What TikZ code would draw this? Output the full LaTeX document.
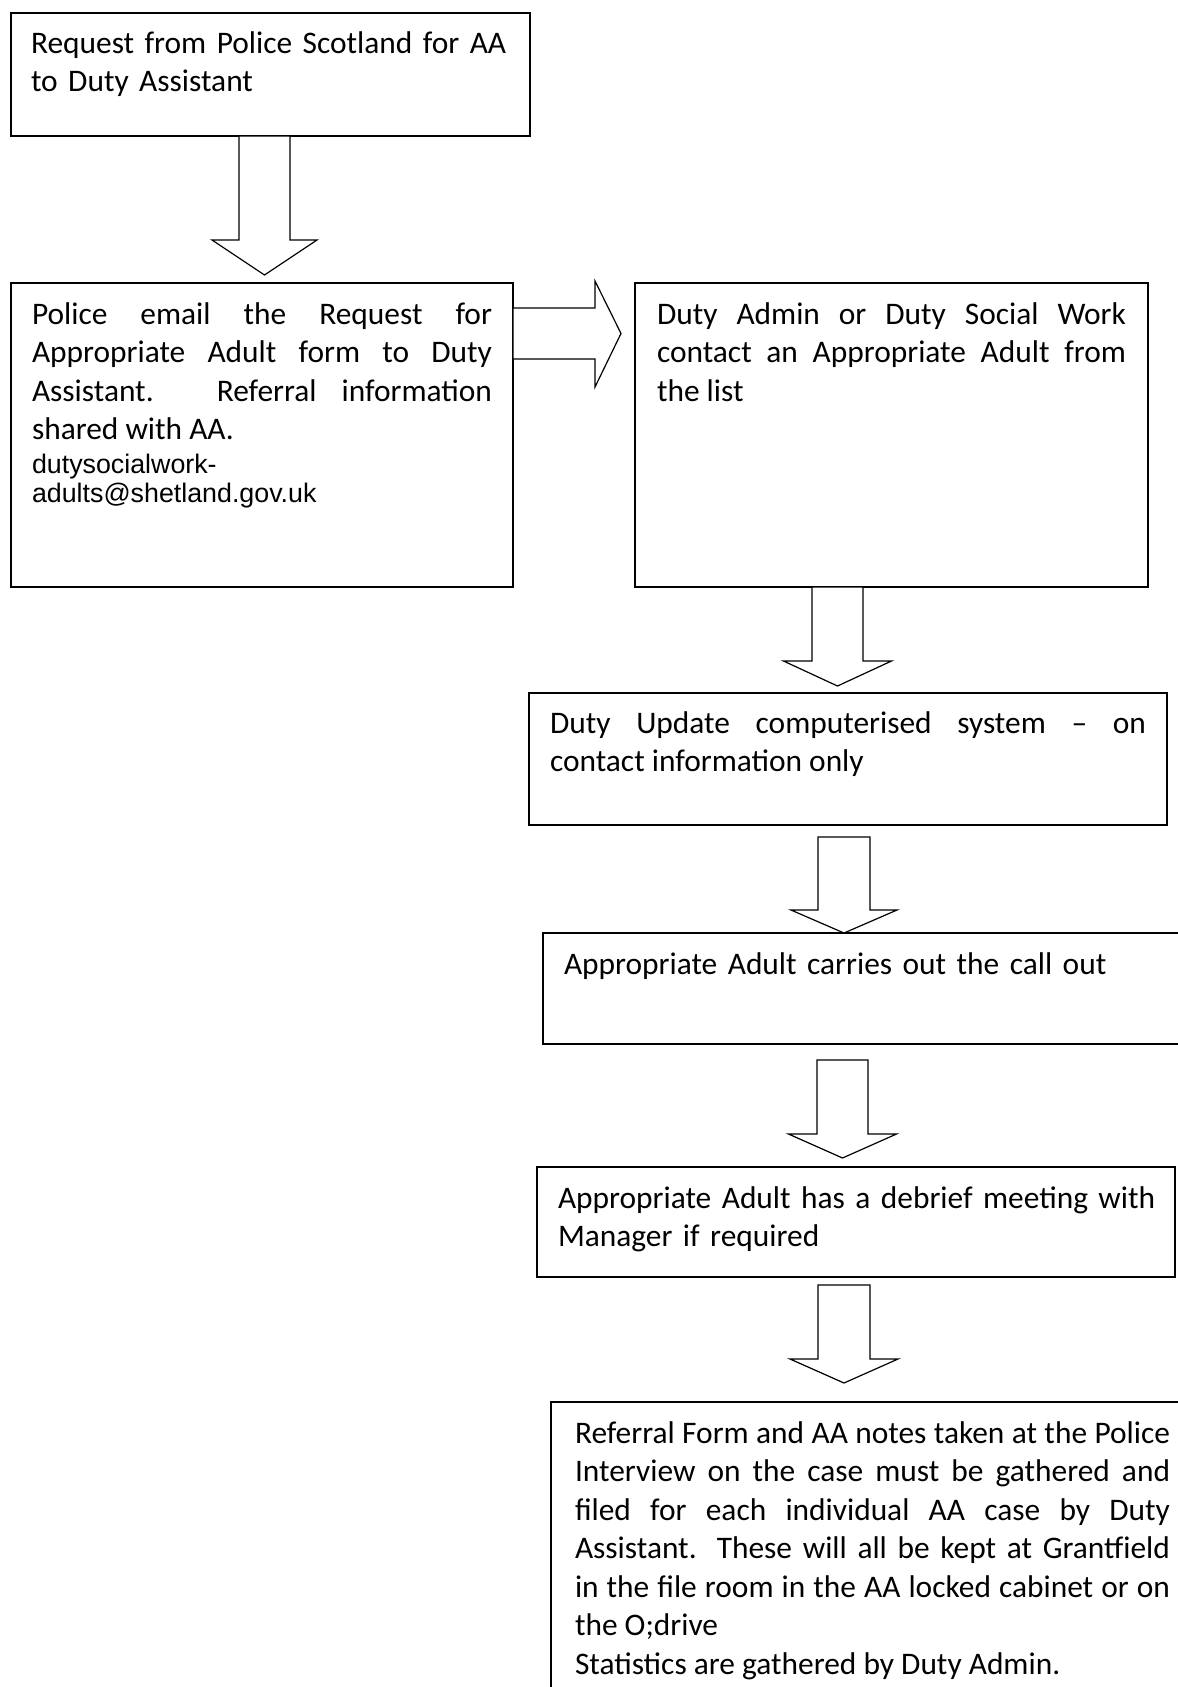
\documentclass[tikz,border=0pt]{standalone}
\usepackage{fontspec}
\setmainfont{Carlito}
\newfontfamily\arialfont{Liberation Sans}
\usetikzlibrary{calc}

\tikzset{
  flowbox/.style={draw, line width=1.3pt, anchor=north west, outer sep=0pt, inner ysep=0pt,
    font=\fontsize{31.4pt}{38.5pt}\selectfont},
  blockarrow/.style={draw, line width=1.2pt, fill=white},
}

% hollow arrow pointing down: start, shaft length, head length, shaft half width, head overhang
\newcommand{\downblock}[5]{%
  \draw[blockarrow] #1 ++(-#4,0) -- ++(0,#2) -- ++(-#5,0) -- ++(#4+#5,#3)
    -- ++(#4+#5,-#3) -- ++(-#5,0) -- ++(0,-#2) -- cycle;}

\begin{document}
\begin{tikzpicture}[x=1pt,y=-1pt]
    \useasboundingbox (0,0) rectangle (1178,1687);

    \node[flowbox, inner xsep=20pt, text width=479pt, text height=40pt, text depth=83pt, align=left] (req) at (11,13)
        {\mbox{Request from Police Scotland for AA}\\to Duty Assistant};
    \node[flowbox, inner xsep=21pt, text width=460pt, text height=41pt, text depth=263pt, align=justify] (police) at (11,283)
        {Police email the Request for\linebreak Appropriate Adult form to Duty\linebreak Assistant. Referral information\linebreak shared with AA.\par\vspace{5pt}%
         {\arialfont\fontsize{26.8pt}{29pt}\selectfont dutysocialwork-\par adults@shetland.gov.uk\par}};
    \node[flowbox, inner xsep=22pt, text width=469pt, text height=41pt, text depth=263pt, align=justify] (duty) at (635,283)
        {Duty Admin or Duty Social Work\linebreak contact an Appropriate Adult from\linebreak the list};
    \node[flowbox, inner xsep=21pt, text width=596pt, text height=40pt, text depth=92pt, align=justify] (update) at (529,693)
        {Duty Update computerised system – on\linebreak contact information only};
    \node[flowbox, inner xsep=21pt, text width=608pt, text height=41pt, text depth=70pt, align=left] (callout) at (543,933)
        {Appropriate Adult carries out the call out};
    \node[flowbox, inner xsep=21pt, text width=596pt, text height=41pt, text depth=69pt, align=left] (debrief) at (537,1167)
        {\mbox{Appropriate Adult has a debrief meeting with}\\Manager if required};
    \node[flowbox, inner xsep=24pt, text width=595pt, text height=41pt, text depth=300pt, align=justify] (referral) at (551,1402)
        {Referral Form and AA notes taken at the Police\linebreak Interview on the case must be gathered and\linebreak filed for each individual AA case by Duty\linebreak Assistant. These will all be kept at Grantfield\linebreak in the file room in the AA locked cabinet or on\linebreak the O;drive\par Statistics are gathered by Duty Admin.};

    % arrows
    \downblock{([xshift=-6pt]req.south)}{104}{35}{25.5}{27}
    \draw[blockarrow] ([yshift=-25pt]police.north east) -- ++(82,0) -- ++(0,-27) -- ++(26,52.5)
        -- ++(-26,53.5) -- ++(0,-28) -- ++(-82,0) -- cycle;
    \downblock{([xshift=-54pt]duty.south)}{74}{25}{25.5}{28.5}
    \downblock{([xshift=-4pt,yshift=-12pt]update.south)}{73}{23}{26}{27}
    \downblock{([xshift=-25.5pt,yshift=-16pt]callout.south)}{74}{24}{25.5}{28.5}
    \downblock{([xshift=-12pt,yshift=-8pt]debrief.south)}{74}{24}{26}{28}
\end{tikzpicture}
\end{document}
